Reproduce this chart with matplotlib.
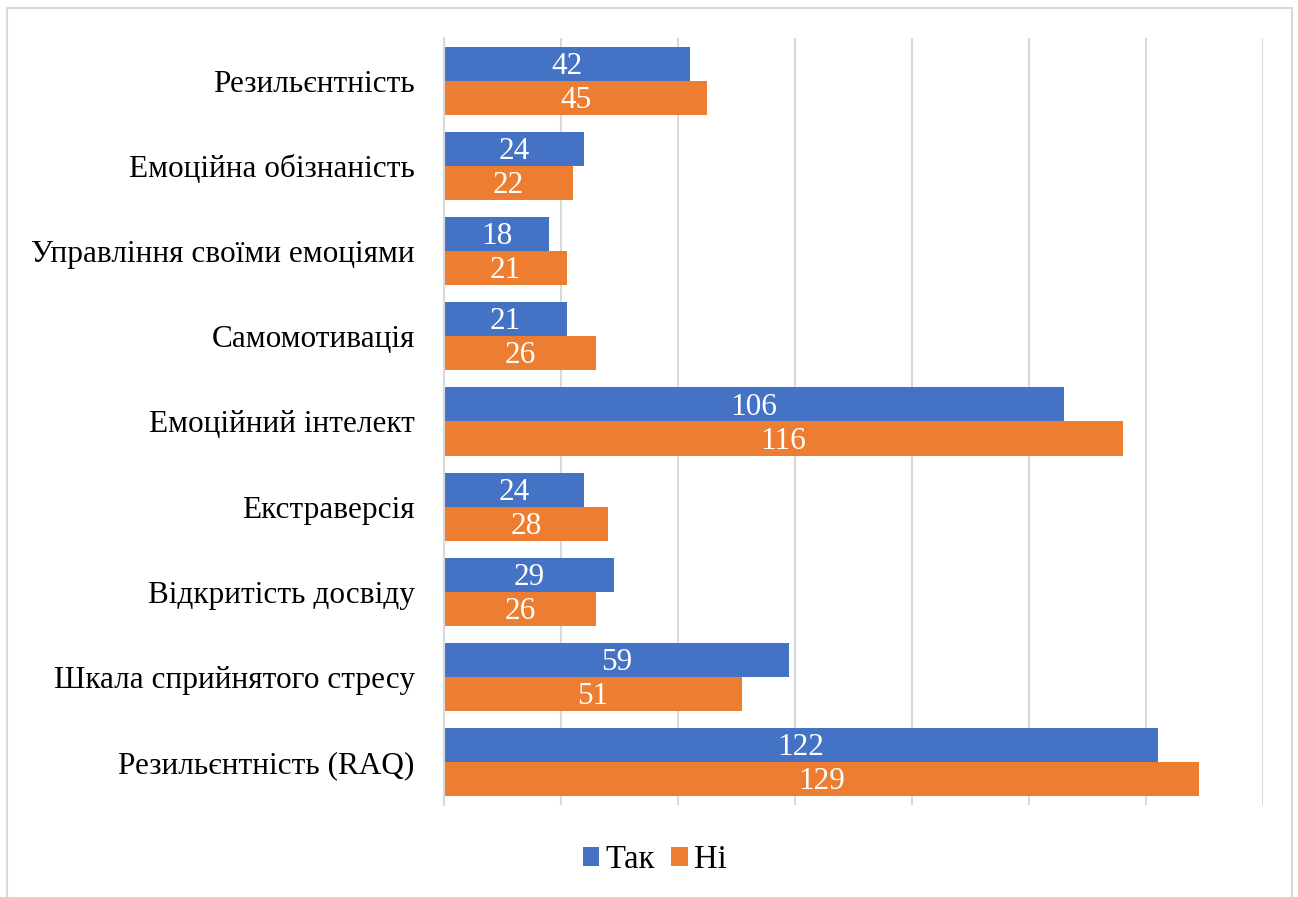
import numpy as np
import matplotlib.pyplot as plt
from matplotlib.patches import Rectangle

# дані
categories = ['Резильєнтність', 'Емоційна обізнаність', 'Управління своїми емоціями',
              'Самомотивація', 'Емоційний інтелект', 'Екстраверсія',
              'Відкритість досвіду', 'Шкала сприйнятого стресу', 'Резильєнтність (RAQ)']
tak = [42, 24, 18, 21, 106, 24, 29, 59, 122]
ni = [45, 22, 21, 26, 116, 28, 26, 51, 129]

plt.rcParams['font.family'] = ['Liberation Serif', 'DejaVu Serif']

fig = plt.figure(figsize=(12.98, 8.97), dpi=100)
ax = fig.add_axes([444 / 1298, 1 - 805 / 897, (1263 - 444) / 1298, (805 - 38) / 897])

y = np.arange(len(categories))
h = 0.4
b1 = ax.barh(y - h / 2, tak, height=h, color='#4472C4', label='Так')
b2 = ax.barh(y + h / 2, ni, height=h, color='#ED7D31', label='Ні')

# підписи значень всередині стовпців
for bars in (b1, b2):
    for bar in bars:
        w = bar.get_width()
        ax.text(w / 2, bar.get_y() + bar.get_height() / 2 + 0.03, f'{int(w)}',
                ha='center', va='center', color='white', fontsize=22.5)

ax.set_xlim(0, 140)
ax.set_ylim(len(categories) - 0.5, -0.5)
ax.set_xticks(np.arange(0, 141, 20))
ax.set_xticklabels([])
ax.set_yticks(y)
ax.set_yticklabels(categories, fontsize=22.5)
ax.tick_params(axis='both', length=0)
ax.tick_params(axis='y', pad=21)
ax.grid(axis='x', color='#d9d9d9', linewidth=1.5)
ax.set_axisbelow(True)
for s in ['top', 'right', 'bottom']:
    ax.spines[s].set_visible(False)
ax.spines['left'].set_color('#d9d9d9')
ax.spines['left'].set_linewidth(1.5)

fig.legend(loc='center', bbox_to_anchor=(655 / 1298, 1 - 860 / 897), ncol=2,
           frameon=False, fontsize=23.5, handlelength=0.5, handleheight=0.5,
           handletextpad=0.2, columnspacing=0.5)

# рамка навколо діаграми
fig.patches.append(Rectangle((7 / 1298, -0.01), (1292 - 7) / 1298, 1.01 - 8 / 897,
                             transform=fig.transFigure, fill=False,
                             edgecolor='#d9d9d9', linewidth=1.5))

plt.savefig('out.png', dpi=100)
